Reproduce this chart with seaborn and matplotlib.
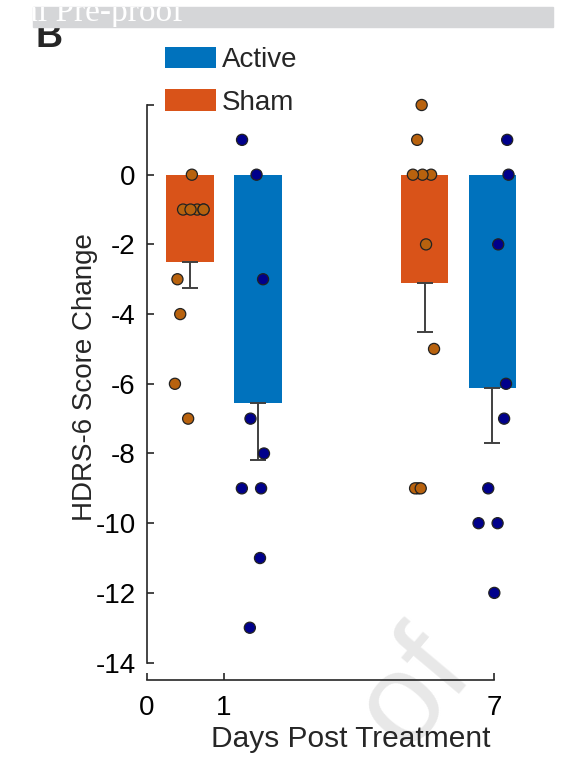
import numpy as np
import pandas as pd
import matplotlib
matplotlib.use('Agg')
import matplotlib.pyplot as plt
from matplotlib.patches import Rectangle
import seaborn as sns

# HDRS-6 change per subject
sham_day1 = [0, -1, -1, -1, -1, -1, -3, -4, -6, -7]
active_day1 = [1, 0, -3, -7, -8, -9, -9, -11, -13]
sham_day7 = [2, 1, 0, 0, 0, -2, -5, -9, -9, -9]
active_day7 = [1, 0, -2, -6, -7, -9, -10, -10, -12]

days = [1, 7]
groups = ['Sham', 'Active']
tick_labels = ['0', '1', '7']

bar_colors = {'Active': '#0072BD', 'Sham': '#D95319'}
dot_colors = {'Active': '#00008B', 'Sham': '#B8620E'}

# layout: where each day sits on the (non-linear) x axis
day_pos = {1: 1.0, 7: 4.04}
group_off = {'Sham': -0.44, 'Active': 0.44}
tick_pos = [0, 1, 4.5]

rows = []
for day, grp, vals in [(1, 'Sham', sham_day1), (1, 'Active', active_day1),
                       (7, 'Sham', sham_day7), (7, 'Active', active_day7)]:
    for v in vals:
        rows.append({'day': day, 'group': grp, 'change': v,
                     'x': day_pos[day] + group_off[grp]})
df = pd.DataFrame(rows)

sns.set_style('ticks')
plt.rcParams['font.family'] = ['Liberation Sans', 'DejaVu Sans']
plt.rcParams['font.size'] = 20

fig = plt.figure(figsize=(5.64, 7.57), dpi=100)
ax = fig.add_axes([0.2606, 0.1017, 0.7245, 0.7688])
ax.set_facecolor('none')

sns.barplot(data=df, x='x', y='change', hue='group', hue_order=['Active', 'Sham'],
            palette=bar_colors, saturation=1, native_scale=True, width=0.70, dodge=False,
            errorbar=None, linewidth=0, ax=ax)

# one-sided SEM whiskers (downwards only)
stats = df.groupby('x')['change'].agg(['mean', 'sem']).reset_index()
ax.errorbar(stats['x'], stats['mean'], yerr=[stats['sem'], np.zeros(len(stats))],
            fmt='none', ecolor='#404040', elinewidth=1.4, capsize=6, capthick=1.4, zorder=3)

np.random.seed(3)
sns.stripplot(data=df, x='x', y='change', hue='group', palette=dot_colors,
              native_scale=True, jitter=0.25, size=8, edgecolor='#222222',
              linewidth=0.9, legend=False, ax=ax, zorder=4, clip_on=False)

ax.set_xlim(0, 5.3)
ax.set_ylim(-14.5, 2.2)
ax.set_xticks(tick_pos)
ax.set_xticklabels(tick_labels)
yt = list(range(-14, 3, 2))
ax.set_yticks(yt)
ax.set_yticklabels([str(t) if t <= 0 else '' for t in yt])
ax.tick_params(direction='in', length=5, width=1.2, colors='#262626', labelcolor='black', pad=8)
ax.tick_params(axis='x', pad=11)
for s in ['top', 'right']:
    ax.spines[s].set_visible(False)
ax.spines['left'].set_bounds(-14, 2)
ax.spines['bottom'].set_bounds(0, 4.5)
for s in ['left', 'bottom']:
    ax.spines[s].set_linewidth(1.2)
    ax.spines[s].set_color('#262626')

ax.set_xlabel('Days Post Treatment', fontsize=21.5)
ax.set_ylabel('HDRS-6 Score Change', fontsize=20)
ax.xaxis.set_label_coords(0.499, -0.077)
ax.yaxis.set_label_coords(-0.12, 0.52)

h, l = ax.get_legend_handles_labels()
if ax.legend_:
    ax.legend_.remove()
fig.legend(h, l, loc='upper left', bbox_to_anchor=(0.2926, 0.938), frameon=False,
           handlelength=1.85, handleheight=0.8, handletextpad=0.2, labelspacing=0.58,
           borderpad=0, borderaxespad=0, fontsize=20)

# page decorations from the source
fig.text(35 / 564, 1 - 47 / 757, 'B', fontsize=27, fontweight='bold', ha='left', va='baseline')
band = Rectangle((33 / 564, 1 - 27 / 757), 520 / 564, 20 / 757,
                 transform=fig.transFigure, color='#D5D6D8', zorder=5)
fig.patches.append(band)
t = fig.text(183 / 564, 1 - 21 / 757, 'Journal Pre-proof', fontsize=24, color='white',
             family=['Liberation Serif', 'DejaVu Serif'], ha='right', va='baseline', zorder=6)
t.set_clip_path(band)
fig.text(415 / 564, 1 - 690 / 757, 'of', fontsize=92, color='#E8E8E8', rotation=50,
         ha='center', va='center', zorder=-1)

fig.savefig('out.png', dpi=100)
